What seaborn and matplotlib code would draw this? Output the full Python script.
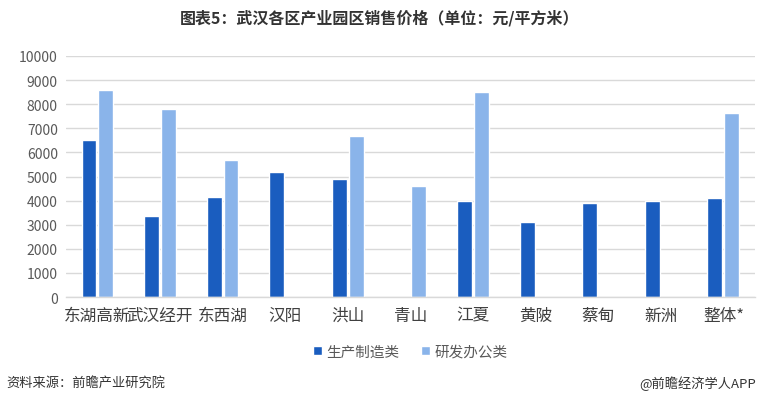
import numpy as np
import pandas as pd
import matplotlib
matplotlib.use("Agg")
import matplotlib.pyplot as plt
import seaborn as sns

categories = ["东湖高新", "武汉经开", "东西湖", "汉阳", "洪山", "青山", "江夏", "黄陂", "蔡甸", "新洲", "整体*"]
manufacturing = [6500, 3350, 4150, 5200, 4900, np.nan, 4000, 3100, 3900, 4000, 4100]
office = [8600, 7800, 5700, np.nan, 6700, 4600, 8500, np.nan, np.nan, np.nan, 7650]
series_names = ["生产制造类", "研发办公类"]
yticks = list(range(0, 10001, 1000))

sns.set_theme(style="white")
plt.rcParams['font.family'] = ['Noto Sans CJK SC', 'DejaVu Sans']

df = pd.DataFrame({
    "区": categories * 2,
    "类别": [series_names[0]] * len(categories) + [series_names[1]] * len(categories),
    "价格": manufacturing + office,
})

fig = plt.figure(figsize=(7.6, 4.1), dpi=100)
ax = fig.add_axes([0.087, 0.273, 0.906, 0.588])

sns.barplot(data=df, x="区", y="价格", hue="类别", order=categories,
            hue_order=series_names, palette=["#1A5DBF", "#8AB4EA"],
            width=0.54, gap=0.12, ax=ax, legend=True, saturation=1)

ax.set_ylim(0, 10000)
ax.set_xlim(-0.5, len(categories) - 0.5)
ax.set_yticks(yticks)
ax.set_yticklabels([str(v) for v in yticks], fontsize=10, color="#595959")
ax.tick_params(axis="x", labelsize=12, colors="#404040", length=0, pad=7)
ax.tick_params(axis="y", length=0, pad=6)
ax.set_xlabel("")
ax.set_ylabel("")
ax.yaxis.grid(True, color="#D9D9D9", linewidth=1)
ax.set_axisbelow(True)
for s in ["top", "right", "left"]:
    ax.spines[s].set_visible(False)
ax.spines["bottom"].set_color("#D9D9D9")
ax.spines["bottom"].set_linewidth(1)

leg = ax.legend(loc="center", bbox_to_anchor=(0.5, -0.225), ncol=2, frameon=False,
                fontsize=10.5, handlelength=0.6, handleheight=0.6, handletextpad=0.3,
                columnspacing=1.5)
for t in leg.get_texts():
    t.set_color("#595959")

fig.text(0.5, 0.955, "图表5：武汉各区产业园区销售价格（单位：元/平方米）", ha="center", va="center",
         fontsize=11.5, fontweight="bold", color="#333333")
fig.text(0.008, 0.065, "资料来源：前瞻产业研究院", ha="left", va="center", fontsize=9.5, color="#333333")
fig.text(0.995, 0.065, "@前瞻经济学人APP", ha="right", va="center", fontsize=9.5, color="#333333")

fig.savefig("out.png", dpi=100)
